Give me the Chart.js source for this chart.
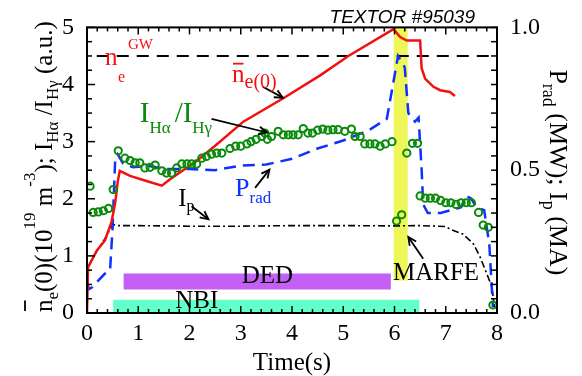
<!DOCTYPE html>
<html lang="en">
<head>
<meta charset="UTF-8">
<title>TEXTOR #95039</title>
<script src="https://cdn.jsdelivr.net/npm/chart.js"></script>
<style>
    body { margin: 0; background: #fff; }
    #wrap { width: 582px; height: 376px; }
</style>
</head>
<body>
<div id="wrap"><canvas id="chart" width="582" height="376"></canvas></div>
<script>
// central line-averaged density, 10^19 m^-3 (left axis)
const neTime = [0, 0.02, 0.19, 0.35, 0.48, 0.55, 0.6, 0.64, 0.84, 1.16, 1.46, 1.62, 2.14, 2.53, 3.05, 3.83, 4.55, 5.1, 5.98, 6.11, 6.24, 6.5, 6.53, 6.6, 6.76, 6.89, 7.08, 7.18];
const neVal  = [0, 0.8, 1.09, 1.27, 1.6, 1.93, 2.3, 2.49, 2.4, 2.31, 2.23, 2.34, 2.66, 2.95, 3.35, 3.76, 4.16, 4.5, 4.97, 4.83, 4.77, 4.77, 4.28, 4.1, 3.96, 3.9, 3.87, 3.8];

// I_Halpha / I_Hgamma ratio, a.u. (left axis)
const hrTime = [0.06, 0.12, 0.22, 0.32, 0.42, 0.51, 0.61, 0.74, 0.84, 0.94, 1.03, 1.13, 1.23, 1.33, 1.46, 1.55, 1.65, 1.75, 1.85, 1.95, 2.04, 2.14, 2.24, 2.33, 2.43, 2.53, 2.63, 2.79, 2.9, 3.0, 3.12, 3.2, 3.3, 3.41, 3.47, 3.52, 3.6, 3.73, 3.83, 3.93, 4.02, 4.12, 4.22, 4.31, 4.4, 4.5, 4.6, 4.7, 4.8, 4.9, 5.03, 5.16, 5.23, 5.33, 5.42, 5.52, 5.62, 5.72, 5.82, 5.95, 6.04, 6.14, 6.24, 6.35, 6.45, 6.5, 6.6, 6.7, 6.8, 6.9, 7.0, 7.1, 7.2, 7.3, 7.4, 7.5, 7.64, 7.73, 7.83, 7.92];
const hrVal  = [2.22, 1.76, 1.77, 1.79, 1.83, 2.16, 2.84, 2.71, 2.67, 2.63, 2.63, 2.54, 2.55, 2.59, 2.49, 2.45, 2.45, 2.54, 2.61, 2.61, 2.61, 2.61, 2.71, 2.74, 2.78, 2.8, 2.8, 2.88, 2.92, 2.92, 2.96, 3.0, 3.04, 3.09, 3.15, 3.04, 3.09, 3.18, 3.12, 3.12, 3.12, 3.12, 3.23, 3.15, 3.15, 3.2, 3.22, 3.2, 3.21, 3.21, 3.18, 3.22, 3.09, 3.09, 2.96, 2.96, 2.96, 2.92, 2.96, 3.0, 1.61, 1.72, 2.8, 2.97, 2.97, 2.05, 2.01, 2.01, 2.01, 1.97, 1.93, 1.93, 1.9, 1.93, 1.93, 1.93, 1.76, 1.54, 1.5, 0.14];

// radiated power, MW (right axis)
const pradTime = [0.0, 0.04, 0.1, 0.2, 0.35, 0.45, 0.5, 0.55, 0.6, 0.7, 0.9, 1.2, 1.5, 2.0, 2.5, 3.0, 3.5, 4.0, 4.5, 5.0, 5.5, 5.85, 5.93, 6.07, 6.2, 6.27, 6.4, 6.47, 6.53, 6.56, 6.65, 6.9, 7.1, 7.3, 7.4, 7.5, 7.6, 7.75, 7.85, 7.92];
const pradVal  = [0.11, 0.084, 0.09, 0.11, 0.138, 0.15, 0.3, 0.54, 0.556, 0.524, 0.51, 0.516, 0.504, 0.504, 0.5, 0.516, 0.52, 0.54, 0.576, 0.604, 0.64, 0.68, 0.76, 0.9, 0.86, 0.7, 0.67, 0.684, 0.5, 0.38, 0.35, 0.35, 0.36, 0.37, 0.41, 0.4, 0.37, 0.36, 0.24, 0.02];

// plasma current, MA (right axis)
const ipTime = [0.02, 0.2, 0.35, 0.5, 0.6, 1.0, 2.0, 3.0, 4.0, 5.0, 6.0, 6.5, 7.0, 7.08, 7.34, 7.54, 7.67, 7.8, 7.9, 7.95];
const ipVal  = [0.16, 0.22, 0.26, 0.31, 0.306, 0.306, 0.304, 0.304, 0.306, 0.306, 0.305, 0.306, 0.303, 0.294, 0.276, 0.242, 0.196, 0.138, 0.092, 0.02];

// Greenwald density limit
const gwTime = [0.19, 8.0];
const gwVal  = [4.5, 4.5];

// heating / perturbation windows: [start, end] in s, [low, high] on left axis
const dedSpan = [0.71, 5.93];
const dedLevel = [0.41, 0.69];
const nbiSpan = [0.51, 6.49];
const nbiLevel = [0.005, 0.23];
const marfeSpan = [5.98, 6.26];
const marfeLevel = [0.57, 5.0];

const xTicks = [0, 1, 2, 3, 4, 5, 6, 7, 8];

const SERIF = '"Liberation Serif", "Times New Roman", serif';
const RED = '#f21010', GREEN = '#0a8a0a', BLUE = '#1030ff';

function pts(t, v) { return t.map((x, i) => ({ x: x, y: v[i] })); }
function box(span, level) { return [{ x: span[0], y: level[1] }, { x: span[1], y: level[1] }]; }

// text annotations placed in data units
const labels = [
    { t: 0.35, v: 4.34, color: RED, parts: [{ s: 'n', size: 25 }, { s: 'e', size: 16, x: 13, dy: 17 }, { s: 'GW', size: 15, x: 23, dy: -16 }] },
    { t: 2.83, v: 4.05, color: RED, parts: [{ s: 'n', size: 25, over: 18 }, { s: 'e(0)', size: 20, dy: 6 }] },
    { t: 1.03, v: 3.35, color: GREEN, parts: [{ s: 'I', size: 29 }, { s: 'H\u03b1', size: 17, dy: 11, gap: 4 }, { s: '/I', size: 29 }, { s: 'H\u03b3', size: 17, dy: 11 }] },
    { t: 2.89, v: 2.05, color: BLUE, parts: [{ s: 'P', size: 26 }, { s: 'rad', size: 17, dy: 7 }] },
    { t: 1.78, v: 1.875, color: '#000', parts: [{ s: 'I', size: 25 }, { s: 'p', size: 16, dy: 5 }] },
    { t: 3.02, v: 0.52, color: '#000', parts: [{ s: 'DED', size: 25 }] },
    { t: 1.72, v: 0.09, color: '#000', parts: [{ s: 'NBI', size: 25 }] },
    { t: 5.97, v: 0.57, color: '#000', parts: [{ s: 'MARFE', size: 25 }] }
];

const arrows = [
    [3.43, 3.96, 3.82, 3.77],
    [2.43, 3.40, 3.51, 3.16],
    [3.28, 2.19, 3.56, 2.51],
    [2.04, 1.87, 2.37, 1.64],
    [6.56, 0.95, 6.27, 1.33]
];

const leftTitle = [
    { s: 'n', size: 25, over: 27 }, { s: 'e', size: 17, dy: 6 }, { s: '(0)(10', size: 25 },
    { s: '19', size: 17, dy: -17 }, { s: ' m', size: 25 }, { s: '-3', size: 17, dy: -17 },
    { s: '); I', size: 25 }, { s: 'H\u03b1', size: 17, dy: 6 }, { s: ' /I', size: 25 },
    { s: 'H\u03b3', size: 17, dy: 6 }, { s: ' (a.u.)', size: 25 }
];
const rightTitle = [
    { s: 'P', size: 26 }, { s: 'rad', size: 18, dy: 7 }, { s: ' (MW); I', size: 26 },
    { s: 'p', size: 18, dy: 7 }, { s: ' (MA)', size: 26 }
];

function drawRuns(ctx, parts, color) {
    let x = 0;
    ctx.fillStyle = color;
    ctx.strokeStyle = color;
    ctx.textBaseline = 'alphabetic';
    ctx.textAlign = 'left';
    parts.forEach(p => {
        if (p.x !== undefined) x = p.x;
        ctx.font = p.size + 'px ' + SERIF;
        ctx.fillText(p.s, x, p.dy || 0);
        const w = ctx.measureText(p.s).width;
        if (p.over) {
            ctx.lineWidth = 1.8;
            ctx.beginPath();
            ctx.moveTo(x + 1, -p.over);
            ctx.lineTo(x + w - 1, -p.over);
            ctx.stroke();
        }
        x += w + (p.gap || 0);
    });
}

const decorations = {
    id: 'decorations',
    afterDatasetsDraw(chart) {
        const { ctx, chartArea: a, scales } = chart;
        const x = scales.x, y = scales.y, y2 = scales.y2;
        ctx.save();

        // inward ticks
        ctx.strokeStyle = '#000';
        ctx.lineWidth = 1.5;
        const seg = (x0, y0, x1, y1) => { ctx.beginPath(); ctx.moveTo(x0, y0); ctx.lineTo(x1, y1); ctx.stroke(); };
        for (let i = 0; i <= 40; i++) {
            const px = x.getPixelForValue(i / 5);
            const len = i % 5 === 0 ? 7 : 4;
            seg(px, a.bottom, px, a.bottom - len);
            seg(px, a.top, px, a.top + len);
        }
        for (let i = 0; i <= 20; i++) {
            const py = y.getPixelForValue(i / 4);
            seg(a.left, py, a.left + (i % 4 === 0 ? 8 : 5), py);
        }
        for (let i = 0; i <= 20; i++) {
            const py = y2.getPixelForValue(i / 20);
            seg(a.right, py, a.right - 6, py);
        }
        ctx.lineWidth = 2;
        ctx.strokeRect(a.left, a.top, a.width, a.height);

        // arrows
        ctx.lineWidth = 1.8;
        arrows.forEach(r => {
            const x0 = x.getPixelForValue(r[0]), y0 = y.getPixelForValue(r[1]);
            const x1 = x.getPixelForValue(r[2]), y1 = y.getPixelForValue(r[3]);
            const ang = Math.atan2(y1 - y0, x1 - x0);
            seg(x0, y0, x1, y1);
            ctx.beginPath();
            ctx.moveTo(x1 - 9 * Math.cos(ang - 0.45), y1 - 9 * Math.sin(ang - 0.45));
            ctx.lineTo(x1, y1);
            ctx.lineTo(x1 - 9 * Math.cos(ang + 0.45), y1 - 9 * Math.sin(ang + 0.45));
            ctx.stroke();
        });

        // labels
        labels.forEach(l => {
            ctx.save();
            ctx.translate(x.getPixelForValue(l.t), y.getPixelForValue(l.v));
            drawRuns(ctx, l.parts, l.color);
            ctx.restore();
        });

        ctx.fillStyle = '#000';
        ctx.font = 'italic 19px "Liberation Sans", Arial, sans-serif';
        ctx.textAlign = 'right';
        ctx.fillText('TEXTOR #95039', x.getPixelForValue(7.57), y.getPixelForValue(5.07));

        // axis titles
        ctx.font = '25px ' + SERIF;
        ctx.textAlign = 'center';
        ctx.fillText('Time(s)', (a.left + a.right) / 2, a.bottom + 57);

        ctx.save();
        ctx.translate(a.left - 35, a.bottom - 1);
        ctx.rotate(-Math.PI / 2);
        drawRuns(ctx, leftTitle, '#000');
        ctx.restore();

        ctx.save();
        ctx.translate(a.right + 53, a.top + 42);
        ctx.rotate(Math.PI / 2);
        drawRuns(ctx, rightTitle, '#000');
        ctx.restore();

        ctx.restore();
    }
};

const tickFont = { family: SERIF, size: 24 };

new Chart(document.getElementById('chart'), {
    type: 'line',
    data: {
        datasets: [
            { data: pts(hrTime, hrVal), yAxisID: 'y', showLine: false, pointRadius: 3.6, pointBorderWidth: 2,
              pointBorderColor: GREEN, pointBackgroundColor: 'rgba(0,0,0,0)' },
            { data: pts(neTime, neVal), yAxisID: 'y', borderColor: RED, borderWidth: 2.5, pointRadius: 0 },
            { data: pts(pradTime, pradVal), yAxisID: 'y2', borderColor: BLUE, borderWidth: 2.5, borderDash: [12, 7], pointRadius: 0 },
            { data: pts(ipTime, ipVal), yAxisID: 'y2', borderColor: '#000', borderWidth: 1.6, borderDash: [7, 3, 2, 3], pointRadius: 0 },
            { data: pts(gwTime, gwVal), yAxisID: 'y', borderColor: '#000', borderWidth: 2, borderDash: [12, 8], pointRadius: 0 },
            { data: box(marfeSpan, marfeLevel), yAxisID: 'y', borderWidth: 0, pointRadius: 0,
              fill: { value: marfeLevel[0] }, backgroundColor: 'rgb(238,246,88)' },
            { data: box(dedSpan, dedLevel), yAxisID: 'y', borderWidth: 0, pointRadius: 0,
              fill: { value: dedLevel[0] }, backgroundColor: 'rgb(196,96,245)' },
            { data: box(nbiSpan, nbiLevel), yAxisID: 'y', borderWidth: 0, pointRadius: 0,
              fill: { value: nbiLevel[0] }, backgroundColor: 'rgb(98,255,204)' }
        ]
    },
    options: {
        responsive: false,
        animation: false,
        devicePixelRatio: 1,
        layout: { padding: { top: 25, left: 0, right: 0, bottom: 0 } },
        plugins: { legend: { display: false }, tooltip: { enabled: false } },
        scales: {
            x: {
                type: 'linear', min: 0, max: 8,
                afterBuildTicks: s => { s.ticks = xTicks.map(v => ({ value: v })); },
                afterFit: s => { s.height = 63; },
                grid: { display: false, drawTicks: false }, border: { display: false },
                ticks: { font: tickFont, color: '#000', padding: 6, maxRotation: 0 }
            },
            y: {
                position: 'left', min: 0, max: 5,
                afterFit: s => { s.width = 87; },
                grid: { display: false, drawTicks: false }, border: { display: false },
                ticks: { font: tickFont, color: '#000', padding: 13, stepSize: 1 }
            },
            y2: {
                position: 'right', min: 0, max: 1,
                afterFit: s => { s.width = 85; },
                grid: { display: false, drawTicks: false }, border: { display: false },
                ticks: { font: tickFont, color: '#000', padding: 13, stepSize: 0.5, callback: v => v.toFixed(1) }
            }
        }
    },
    plugins: [decorations]
});
</script>
</body>
</html>
